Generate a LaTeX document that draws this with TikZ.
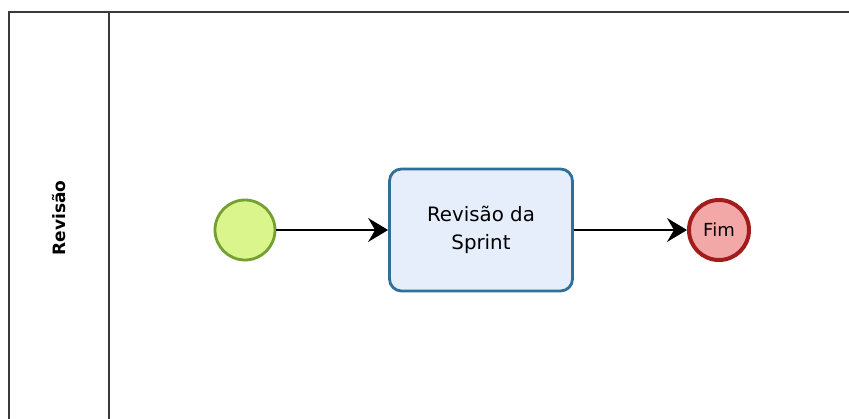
\documentclass[tikz,border=0pt]{standalone}
\usepackage{fontspec}
\setmainfont{DejaVu Sans}
\usetikzlibrary{arrows.meta}
\definecolor{poolline}{HTML}{3A3A3A}
\definecolor{startfill}{HTML}{DAF58C}
\definecolor{startline}{HTML}{74A032}
\definecolor{taskfill}{HTML}{E6EEFB}
\definecolor{taskline}{HTML}{2F6F98}
\definecolor{endfill}{HTML}{F3A8A8}
\definecolor{endline}{HTML}{A21C1C}
\tikzset{
  poolborder/.style={draw=poolline, line width=2.2pt},
  startevent/.style={circle, draw=startline, fill=startfill, line width=2.8pt, minimum size=60pt, inner sep=0pt},
  endevent/.style={circle, draw=endline, fill=endfill, line width=4pt, minimum size=60pt, inner sep=0pt, font=\fontsize{18}{20}\selectfont},
  taskbox/.style={rectangle, rounded corners=12pt, draw=taskline, fill=taskfill, line width=2.8pt, minimum width=183pt, minimum height=122pt, align=center, font=\fontsize{19.8}{28}\selectfont},
  flow/.style={line width=1.8pt, -{Stealth[length=20pt,width=24pt,inset=7pt]}},
  lanelabel/.style={rotate=90, font=\fontsize{17}{18}\selectfont\bfseries}
}
\begin{document}
\begin{tikzpicture}[x=1pt,y=-1pt]
\useasboundingbox (0,0) rectangle (849,419);
\fill[white] (0,0) rectangle (849,419);
\draw[poolborder] (9,425) -- (9,12) -- (855,12);
\draw[poolborder] (109,12) -- (109,425);
\node[lanelabel] (lane) at (59,218) {Revisão};
\node[startevent] (start) at (245,230) {};
\node[taskbox] (task) at (481,230) {Revisão da\\Sprint};
\node[endevent] (end) at (719,230) {Fim};
\draw[flow] (start) -- (task);
\draw[flow] (task) -- (end);
\end{tikzpicture}
\end{document}
